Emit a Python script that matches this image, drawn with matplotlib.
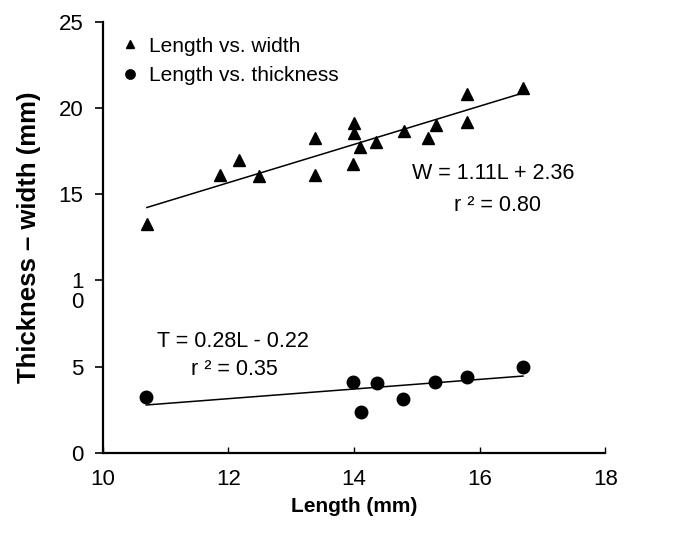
import matplotlib
matplotlib.use("Agg")
import matplotlib.pyplot as plt
import matplotlib.transforms as mtransforms
import numpy as np

plt.rcParams['font.family'] = ['Liberation Sans', 'DejaVu Sans']

# length vs width (triangles)
len_w = [10.7, 11.86, 12.17, 12.49, 13.38, 13.38, 14.0, 14.0, 13.99, 14.1,
         14.35, 14.79, 15.18, 15.3, 15.8, 15.8, 16.69]
width = [13.3, 16.1, 17.0, 16.05, 18.25, 16.1, 19.15, 18.55, 16.75, 17.75,
         18.05, 18.7, 18.3, 19.05, 20.85, 19.2, 21.15]

# length vs thickness (circles)
len_t = [10.69, 13.99, 14.11, 14.36, 14.78, 15.29, 15.8, 16.69]
thick = [3.25, 4.08, 2.35, 4.05, 3.1, 4.08, 4.42, 5.0]

# regression fits shown on the chart
w_slope, w_icpt = 1.11, 2.36
t_slope, t_icpt = 0.28, -0.22

xticks = [10, 12, 14, 16, 18]
yticks = [0, 5, 10, 15, 20, 25]
ytick_labels = ['0', '5', '1\n0', '15', '20', '25']

fig = plt.figure(figsize=(6.77, 5.39), dpi=100)
ax = fig.add_axes([0.152, 0.160, 0.742, 0.799])

ax.plot(len_w, width, '^', color='black', ms=8, label='Length vs. width')
ax.plot(len_t, thick, 'o', color='black', ms=9, label='Length vs. thickness')

xw = np.array([min(len_w), max(len_w)])
ax.plot(xw, w_slope * xw + w_icpt, color='black', lw=1.1)
xt = np.array([min(len_t), max(len_t)])
ax.plot(xt, t_slope * xt + t_icpt, color='black', lw=1.1)

ax.text(16.22, 16.24, 'W = 1.11L + 2.36', ha='center', va='center', fontsize=15.5)
ax.text(16.28, 14.38, 'r \u00b2 = 0.80', ha='center', va='center', fontsize=15.5)
ax.text(12.07, 6.44, 'T = 0.28L - 0.22', ha='center', va='center', fontsize=15.5)
ax.text(12.1, 4.81, 'r \u00b2 = 0.35', ha='center', va='center', fontsize=15.5)

ax.set_xlim(10, 18)
ax.set_ylim(0, 25)
ax.set_xticks(xticks)
ax.set_yticks(yticks)
ax.set_yticklabels(ytick_labels, linespacing=0.95)
ax.tick_params(axis='x', direction='in', length=4, width=1, pad=12, labelsize=16)
ax.tick_params(axis='y', direction='out', length=6, width=1.2, pad=8, labelsize=16)

# the broken "1 / 0" label sits with its first line on the tick
lbl10 = ax.get_yticklabels()[2]
lbl10.set_transform(lbl10.get_transform() +
                    mtransforms.ScaledTranslation(0, -0.1, fig.dpi_scale_trans))

for s in ['top', 'right']:
    ax.spines[s].set_visible(False)
for s in ['left', 'bottom']:
    ax.spines[s].set_linewidth(1.6)

ax.set_xlabel('Length (mm)', fontsize=15, fontweight='bold', labelpad=5)
ax.set_ylabel('Thickness \u2013 width (mm)', fontsize=18.5, fontweight='bold', labelpad=13)

ax.legend(loc='upper left', bbox_to_anchor=(0.0, 1.0), frameon=False, fontsize=15,
          markerscale=0.75, handletextpad=0.3, handlelength=1.2, borderaxespad=0.3)

fig.savefig('out.png', dpi=100)
